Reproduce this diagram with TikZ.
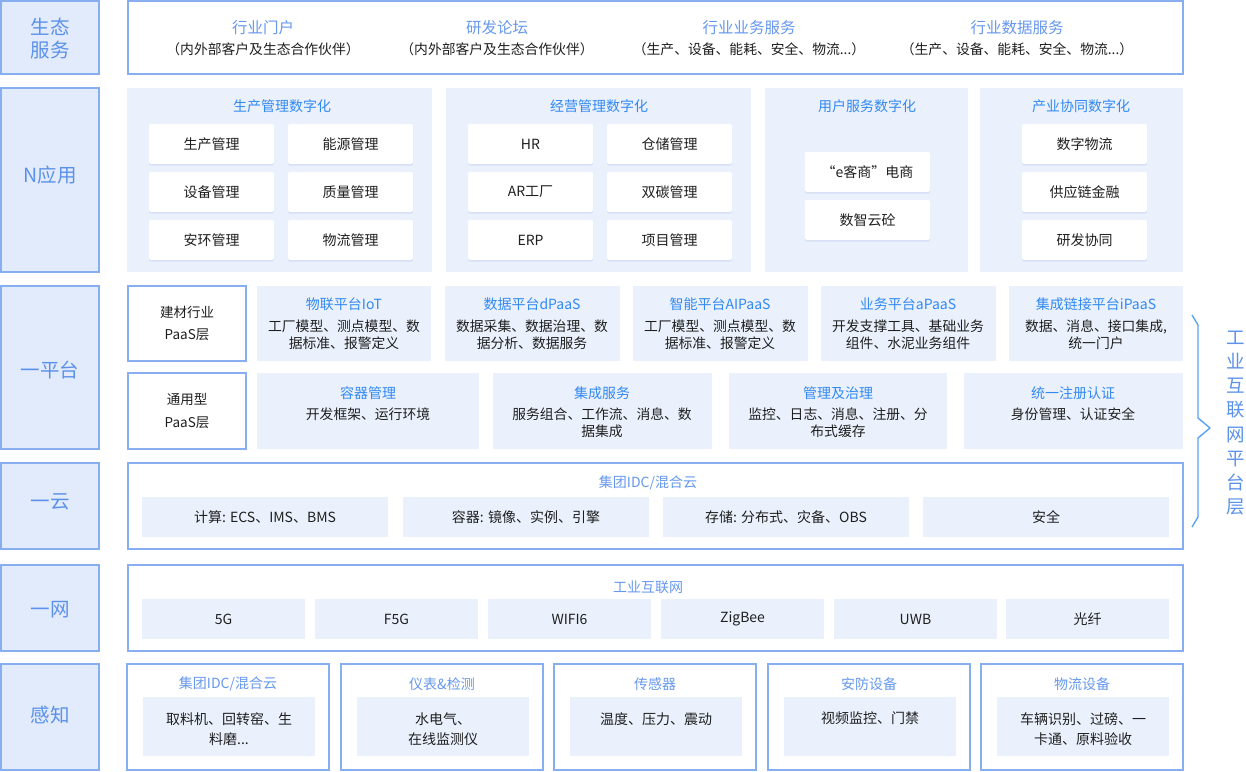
\documentclass[tikz,border=0pt]{standalone}
\usepackage{fontspec}
\setmainfont{Noto Sans CJK SC}
\usetikzlibrary{shadows}
\definecolor{bd}{HTML}{86AEF0}
\definecolor{lfill}{HTML}{E2EBFB}
\definecolor{pfill}{HTML}{EAF1FD}
\definecolor{lbl}{HTML}{5C91EA}
\definecolor{ttlA}{HTML}{3289F2}
\definecolor{ttlB}{HTML}{6698EE}
\definecolor{txt}{HTML}{1F1F1F}
\definecolor{shd}{HTML}{B9C9E8}
\newcommand\fsz[2]{\fontsize{#1}{#2}\selectfont}
\begin{document}
\begin{tikzpicture}[x=1pt,y=-1pt,
  box/.style 2 args={anchor=north west, inner sep=0pt, outer sep=0pt, minimum width=#1pt, minimum height=#2pt},
  lbox/.style={draw=bd, fill=lfill, line width=1.2pt},
  ltxt/.style={font=\fsz{19.5}{23}, text=lbl, align=center, inner sep=0pt},
  frame/.style={draw=bd, fill=white, line width=1.2pt},
  panel/.style={fill=pfill},
  card/.style={fill=white, rounded corners=2pt, drop shadow={shadow xshift=0pt, shadow yshift=-1.5pt, fill=shd, opacity=0.45}, font=\fsz{14}{17}, text=txt},
  cell/.style={fill=pfill, font=\fsz{14}{17}, text=txt},
  ttla/.style={text=ttlA, font=\fsz{14}{17}, inner sep=0pt},
  ttlb/.style={text=ttlB, font=\fsz{14}{17}, inner sep=0pt},
  body/.style={text=txt, font=\fsz{13.8}{16.8}, align=center, inner sep=0pt},
  sbody/.style={text=txt, font=\fsz{14}{20}, align=center, inner sep=0pt, anchor=north},
  sub/.style={text=txt, font=\fsz{13.8}{16}, inner sep=0pt},
  paas/.style={frame, font=\fsz{13.5}{22.5}, text=txt, align=center},
]
\useasboundingbox (0,0) rectangle (1246,771);

% ---------- left labels ----------
\node[box={98}{73}, lbox] (l1) at (1,1) {};
\node[ltxt] (l1t) at (50,39) {生态\\服务};
\node[box={98}{184}, lbox] (l2) at (1,88) {};
\node[ltxt] (l2t) at (50,175) {N应用};
\node[box={98}{163}, lbox] (l3) at (1,286) {};
\node[ltxt] (l3t) at (50,370) {一平台};
\node[box={98}{86}, lbox] (l4) at (1,463) {};
\node[ltxt] (l4t) at (50,502) {一云};
\node[box={98}{86}, lbox] (l5) at (1,565) {};
\node[ltxt] (l5t) at (50,610) {一网};
\node[box={98}{106}, lbox] (l6) at (1,664) {};
\node[ltxt] (l6t) at (50,715) {感知};

% ---------- 生态服务 ----------
\node[box={1055}{73}, frame] (eco) at (128,1) {};
\node[ttlb, font=\fsz{15.5}{18}] (e1) at (263,28) {行业门户};
\node[sub] (e1s) at (263,49) {（内外部客户及生态合作伙伴）};
\node[ttlb, font=\fsz{15.5}{18}] (e2) at (497,28) {研发论坛};
\node[sub] (e2s) at (497,49) {（内外部客户及生态合作伙伴）};
\node[ttlb, font=\fsz{15.5}{18}] (e3) at (749,28) {行业业务服务};
\node[sub] (e3s) at (749,49) {（生产、设备、能耗、安全、物流...）};
\node[ttlb, font=\fsz{15.5}{18}] (e4) at (1017,28) {行业数据服务};
\node[sub] (e4s) at (1017,49) {（生产、设备、能耗、安全、物流...）};

% ---------- N应用 ----------
\node[box={305}{184}, panel] (p1) at (127,88) {};
\node[ttla] (p1t) at (282,106) {生产管理数字化};
\node[box={125}{40}, card] (a11) at (149,124) {生产管理};
\node[box={125}{40}, card] (a12) at (288,124) {能源管理};
\node[box={125}{40}, card] (a21) at (149,172) {设备管理};
\node[box={125}{40}, card] (a22) at (288,172) {质量管理};
\node[box={125}{40}, card] (a31) at (149,220) {安环管理};
\node[box={125}{40}, card] (a32) at (288,220) {物流管理};

\node[box={305}{184}, panel] (p2) at (446,88) {};
\node[ttla] (p2t) at (599,106) {经营管理数字化};
\node[box={125}{40}, card] (b11) at (468,124) {HR};
\node[box={125}{40}, card] (b12) at (607,124) {仓储管理};
\node[box={125}{40}, card] (b21) at (468,172) {AR工厂};
\node[box={125}{40}, card] (b22) at (607,172) {双碳管理};
\node[box={125}{40}, card] (b31) at (468,220) {ERP};
\node[box={125}{40}, card] (b32) at (607,220) {项目管理};

\node[box={203}{184}, panel] (p3) at (765,88) {};
\node[ttla] (p3t) at (867,106) {用户服务数字化};
\node[box={125}{40}, card] (c1) at (805,152) {“e客商”电商};
\node[box={125}{40}, card] (c2) at (805,200) {数智云砼};

\node[box={203}{184}, panel] (p4) at (980,88) {};
\node[ttla] (p4t) at (1081,106) {产业协同数字化};
\node[box={125}{40}, card] (d1) at (1022,124) {数字物流};
\node[box={125}{40}, card] (d2) at (1022,172) {供应链金融};
\node[box={125}{40}, card] (d3) at (1022,220) {研发协同};

% ---------- 一平台 row 1 ----------
\node[box={118}{75}, paas] (pa1) at (128,286) {建材行业\\PaaS层};
\node[box={174}{75}, panel] (q1) at (257,286) {};
\node[ttla] (q1t) at (344,304) {物联平台IoT};
\node[body, anchor=north] (q1b) at (344,320) {工厂模型、测点模型、数\\据标准、报警定义};
\node[box={175}{75}, panel] (q2) at (445,286) {};
\node[ttla] (q2t) at (532,304) {数据平台dPaaS};
\node[body, anchor=north] (q2b) at (532,320) {数据采集、数据治理、数\\据分析、数据服务};
\node[box={175}{75}, panel] (q3) at (633,286) {};
\node[ttla] (q3t) at (720,304) {智能平台AIPaaS};
\node[body, anchor=north] (q3b) at (720,320) {工厂模型、测点模型、数\\据标准、报警定义};
\node[box={175}{75}, panel] (q4) at (821,286) {};
\node[ttla] (q4t) at (908,304) {业务平台aPaaS};
\node[body, anchor=north] (q4b) at (908,320) {开发支撑工具、基础业务\\组件、水泥业务组件};
\node[box={174}{75}, panel] (q5) at (1009,286) {};
\node[ttla] (q5t) at (1096,304) {集成链接平台iPaaS};
\node[body, anchor=north] (q5b) at (1096,320) {数据、消息、接口集成,\\统一门户};

% ---------- 一平台 row 2 ----------
\node[box={118}{76}, paas] (pa2) at (128,373) {通用型\\PaaS层};
\node[box={222}{76}, panel] (r1) at (257,373) {};
\node[ttla] (r1t) at (368,393) {容器管理};
\node[body, anchor=north] (r1b) at (368,408) {开发框架、运行环境};
\node[box={219}{76}, panel] (r2) at (493,373) {};
\node[ttla] (r2t) at (602,393) {集成服务};
\node[body, anchor=north] (r2b) at (602,408) {服务组合、工作流、消息、数\\据集成};
\node[box={218}{76}, panel] (r3) at (729,373) {};
\node[ttla] (r3t) at (838,393) {管理及治理};
\node[body, anchor=north] (r3b) at (838,408) {监控、日志、消息、注册、分\\布式缓存};
\node[box={219}{76}, panel] (r4) at (964,373) {};
\node[ttla] (r4t) at (1073,393) {统一注册认证};
\node[body, anchor=north] (r4b) at (1073,408) {身份管理、认证安全};

% ---------- bracket + vertical label ----------
\coordinate (k1) at (1192,315);
\coordinate (k2) at (1198,325);
\coordinate (k3) at (1198,418);
\coordinate (k4) at (1210,428);
\coordinate (k5) at (1198,438);
\coordinate (k6) at (1198,517);
\coordinate (k7) at (1192,527);
\draw[draw=ttlA!80!white, line width=1.4pt, line join=round] (k1) -- (k2) -- (k3) -- (k4) -- (k5) -- (k6) -- (k7);
\node[text=lbl, font=\fsz{18.5}{24.2}, align=center, inner sep=0pt] (vlab) at (1236,423) {工\\业\\互\\联\\网\\平\\台\\层};

% ---------- 一云 ----------
\node[box={1055}{86}, frame] (cloud) at (128,463) {};
\node[ttlb] (cloudt) at (648,483) {集团IDC/混合云};
\node[box={246}{40}, cell] (cl1) at (142,497) {计算: ECS、IMS、BMS};
\node[box={246}{40}, cell] (cl2) at (403,497) {容器: 镜像、实例、引擎};
\node[box={246}{40}, cell] (cl3) at (663,497) {存储: 分布式、灾备、OBS};
\node[box={246}{40}, cell] (cl4) at (923,497) {安全};

% ---------- 一网 ----------
\node[box={1055}{86}, frame] (net) at (128,565) {};
\node[ttlb] (nett) at (648,587) {工业互联网};
\node[box={163}{40}, cell] (n1) at (142,599) {5G};
\node[box={163}{40}, cell] (n2) at (315,599) {F5G};
\node[box={163}{40}, cell] (n3) at (488,599) {WIFI6};
\node[box={163}{40}, cell] (n4) at (661,599) {ZigBee};
\node[box={163}{40}, cell] (n5) at (834,599) {UWB};
\node[box={163}{40}, cell] (n6) at (1006,599) {光纤};

% ---------- 感知 ----------
\node[box={202}{106}, frame] (s1) at (127,664) {};
\node[ttlb] (s1t) at (228,684) {集团IDC/混合云};
\node[box={172}{59}, cell] (s1b) at (143,697) {};
\node[sbody] (s1x) at (229,712) {取料机、回转窑、生\\料磨...};
\node[box={202}{106}, frame] (s2) at (341,664) {};
\node[ttlb] (s2t) at (442,684) {仪表\&检测};
\node[box={172}{59}, cell] (s2b) at (357,697) {};
\node[sbody] (s2x) at (443,712) {水电气、\\在线监测仪};
\node[box={202}{106}, frame] (s3) at (554,664) {};
\node[ttlb] (s3t) at (655,684) {传感器};
\node[box={172}{59}, cell] (s3b) at (570,697) {};
\node[sbody] (s3x) at (656,712) {温度、压力、震动};
\node[box={202}{106}, frame] (s4) at (768,664) {};
\node[ttlb] (s4t) at (869,684) {安防设备};
\node[box={172}{59}, cell] (s4b) at (784,697) {};
\node[sbody] (s4x) at (870,712) {视频监控、门禁};
\node[box={202}{106}, frame] (s5) at (981,664) {};
\node[ttlb] (s5t) at (1082,684) {物流设备};
\node[box={172}{59}, cell] (s5b) at (997,697) {};
\node[sbody] (s5x) at (1083,712) {车辆识别、过磅、一\\卡通、原料验收};
\end{tikzpicture}
\end{document}
